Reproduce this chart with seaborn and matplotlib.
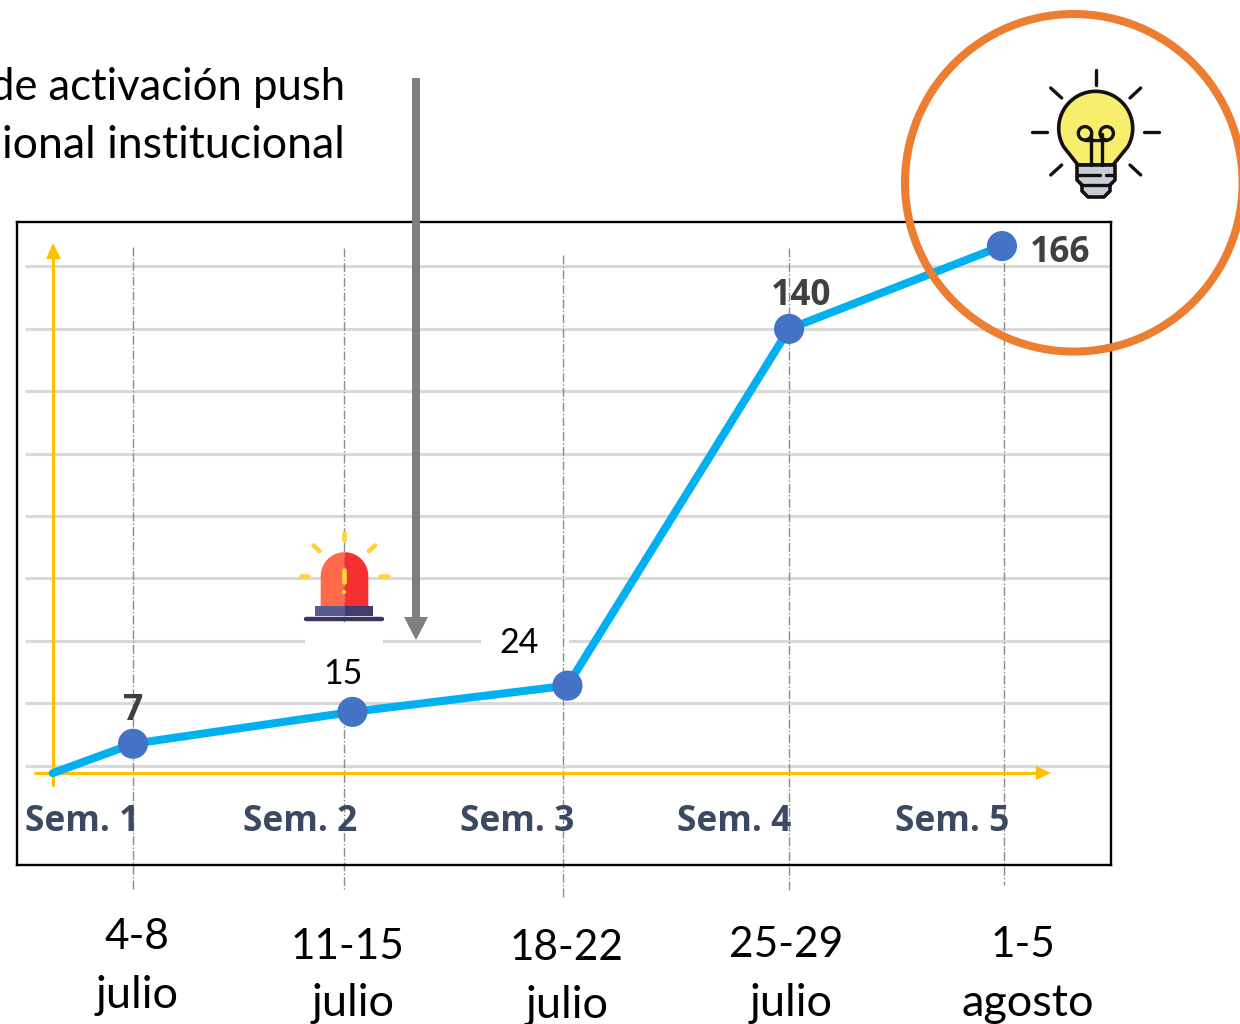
#!/usr/bin/env python3

import numpy as np
import seaborn as sns
import matplotlib.pyplot as plt
from matplotlib.patches import Circle, Polygon, Rectangle

sns.set_style('white')
plt.rcParams['font.family'] = ['Lato', 'DejaVu Sans']

# position of the weeks on the drawn line (first point is the axis origin)
week_pos = [0.63, 1, 2.01, 3, 4.02, 5]
height_pos = [-2.3, 7.1, 17.3, 25.7, 139.9, 166.4]
value_labels = ['7', '15', '24', '140', '166']
grid_values = [0, 20, 40, 60, 80, 100, 120, 140, 160]
sem_labels = ['Sem. 1', 'Sem. 2', 'Sem. 3', 'Sem. 4', 'Sem. 5']
date_top = ['4-8', '11-15', '18-22', '25-29', '1-5']
date_bottom = ['julio', 'julio', 'julio', 'julio', 'agosto']
note_lines = ['de activación push', 'ional institucional']

BLUE = '#00B0F0'
DOT = '#4472C4'
YELLOW = '#FFC000'
ORANGE = '#ED7D31'
GREY = '#7F7F7F'
GRID = '#D9D9D9'

fig = plt.figure(figsize=(12.4, 10.24), dpi=100)

# data axes: the black box, 17..1111 x 222..865 px
ax = fig.add_axes([17/1240, 1 - 865/1024, 1094/1240, 643/1024], zorder=2)
# pixel overlay for the pasted-on shapes and text
over = fig.add_axes([0, 0, 1, 1], zorder=3)
over.set_xlim(0, 1240)
over.set_ylim(1024, 0)
over.axis('off')
over.patch.set_alpha(0)
px = over.transData

ax.set_xlim(0.466, 5.502)
ax.set_ylim(-31.7, 174.1)
ax.set_xticks([])
ax.set_yticks([])
for spine in ax.spines.values():
    spine.set_linewidth(1.7)
    spine.set_color('black')

ax.hlines(grid_values, 0.503, 5.502, color=GRID, lw=2.2, zorder=1)

# text boxes of the slide hide part of the grid
for x0, x1 in [(305, 383), (481, 569)]:
    ax.add_patch(Rectangle((x0, 630), x1 - x0, 22, fc='white', ec='none', transform=px, zorder=1.2))

# dash-dot week guides
for x, y0, y1 in [(133, 247, 890), (344, 248, 622), (344, 700, 890), (563, 255, 897), (789, 248, 890), (1004, 248, 885)]:
    ax.plot([x, x], [y0, y1], color='#8C8C8C', lw=1, ls='-.', transform=px, clip_on=False, zorder=1.5)

# yellow axes
ax.plot([35, 1038], [773, 773], color=YELLOW, lw=2.2, transform=px, zorder=1.7)
ax.plot([53, 53], [785, 257], color=YELLOW, lw=2.2, transform=px, zorder=1.7)
ax.add_patch(Polygon([(1051, 773), (1036, 766), (1036, 780)], fc=YELLOW, ec='none', transform=px, zorder=1.7))
ax.add_patch(Polygon([(53, 243), (46, 259), (61, 259)], fc=YELLOW, ec='none', transform=px, zorder=1.7))

sns.lineplot(x=week_pos, y=height_pos, ax=ax, color=BLUE, linewidth=5.8, sort=False, zorder=3)
sns.scatterplot(x=week_pos[1:], y=height_pos[1:], ax=ax, color=DOT, s=470, edgecolor='none', zorder=4)

over.add_patch(Polygon([(412, 78), (420, 78), (420, 617), (428, 617), (416, 640), (404, 617), (412, 617)], fc=GREY, ec='none'))
over.add_patch(Circle((1073.8, 182.8), 168.8, fc='none', ec=ORANGE, lw=5.8))

# value labels
for label, x, y, bold in zip(value_labels, [133, 343, 519, 801, 1060], [711, 674, 643, 296, 253], [True, False, False, True, True]):
    over.text(x, y, label, ha='center', va='center',
              fontsize=24.5 if not bold else 25.5,
              fontweight='bold' if bold else 'normal',
              color='#404040' if bold else 'black',
              family=['Open Sans', 'DejaVu Sans'] if bold else ['Lato', 'DejaVu Sans'])

for label, x in zip(sem_labels, [82, 300, 517, 734, 952]):
    over.text(x, 822, label, ha='center', va='center', fontsize=25.5, fontweight='bold',
              color='#3B4A60', family=['Open Sans', 'DejaVu Sans'])

top_xy = [(137, 937), (348, 947), (567, 948), (786, 945), (1023, 945)]
bottom_xy = [(137, 995), (353, 1004), (567, 1005), (791, 1003), (1028, 1003)]
for label, (x, y) in zip(date_top, top_xy):
    over.text(x, y, label, ha='center', va='center', fontsize=30.5, color='black')
for label, (x, y) in zip(date_bottom, bottom_xy):
    over.text(x, y, label, ha='center', va='center', fontsize=32.5, color='black')

# the slide's note runs off the left edge
for label, y, size in zip(note_lines, [87, 145], [31.4, 32.2]):
    over.text(345, y, label, ha='right', va='center', fontsize=size, color='black')

# light bulb
INK = '#111111'
BULB = '#F7EE6E'
SOCKET = '#C9CED6'
angles = np.radians(np.linspace(-30, 210, 60))
arc = [(1095.7 + 37 * np.cos(t), 128.3 - 37 * np.sin(t)) for t in angles]
over.add_patch(Polygon(arc + [(1078, 165), (1113, 165)], fc=BULB, ec=INK, lw=2.6, joinstyle='round'))
over.add_patch(Polygon([(1077, 165), (1115, 165), (1115, 180), (1110, 185), (1110, 191), (1104, 197),
                        (1088, 197), (1082, 191), (1082, 185), (1077, 180)], fc=SOCKET, ec=INK, lw=2.6, joinstyle='round'))
over.plot([1078, 1100], [175, 175], color=INK, lw=2.4)
over.plot([1106, 1114], [175, 175], color=INK, lw=2.4)
over.plot([1081, 1110], [185, 185], color=INK, lw=2.4)
for cx in [1085, 1106.7]:
    over.add_patch(Circle((cx, 133.3), 6.7, fc='none', ec=INK, lw=2.4))
over.plot([1085, 1106.7], [139.5, 139.5], color=INK, lw=2.4)
for sx in [1090.7, 1101.7]:
    over.plot([sx, sx], [134, 165], color=INK, lw=2.4)
for (x0, y0), (x1, y1) in [((1095.7, 70), (1095.7, 85)), ((1032, 131.7), (1047, 131.7)), ((1144, 131.7), (1159, 131.7)),
                           ((1050.7, 88), (1061.7, 98)), ((1140.7, 88), (1130, 98)),
                           ((1050.7, 175), (1061.7, 165)), ((1140.7, 175), (1130, 165))]:
    over.plot([x0, x1], [y0, y1], color=INK, lw=2.4, solid_capstyle='round')

# alarm light
theta = np.linspace(0, np.pi / 2, 30)
dome_r = 23.8
left_side = [(344.5 - dome_r * np.cos(t), 576 - dome_r * np.sin(t)) for t in theta]
right_side = [(344.5 + dome_r * np.cos(t), 576 - dome_r * np.sin(t)) for t in theta]
over.add_patch(Polygon([(320.7, 606)] + left_side + [(344.5, 606)], fc='#FF6B4A', ec='none'))
over.add_patch(Polygon([(368.3, 606)] + right_side + [(344.5, 606)], fc='#F53030', ec='none'))
over.add_patch(Rectangle((315, 606), 29.5, 10, fc='#5A5A90', ec='none'))
over.add_patch(Rectangle((344.5, 606), 28.5, 10, fc='#443C6A', ec='none'))
over.plot([306, 382], [618.5, 618.5], color='#3A3364', lw=3.2, solid_capstyle='round')
for (x0, y0), (x1, y1) in [((344, 533), (344, 540)), ((313.5, 545.5), (319.5, 551)), ((375, 545.5), (369, 551)),
                           ((301, 576), (308, 576)), ((380, 576), (387.5, 576)), ((344, 570), (344, 582))]:
    over.plot([x0, x1], [y0, y1], color='#FFD23F', lw=3.4, solid_capstyle='round')
over.add_patch(Circle((344, 592), 2.2, fc='#FFD23F', ec='none'))

plt.savefig('out.png', dpi=100)
